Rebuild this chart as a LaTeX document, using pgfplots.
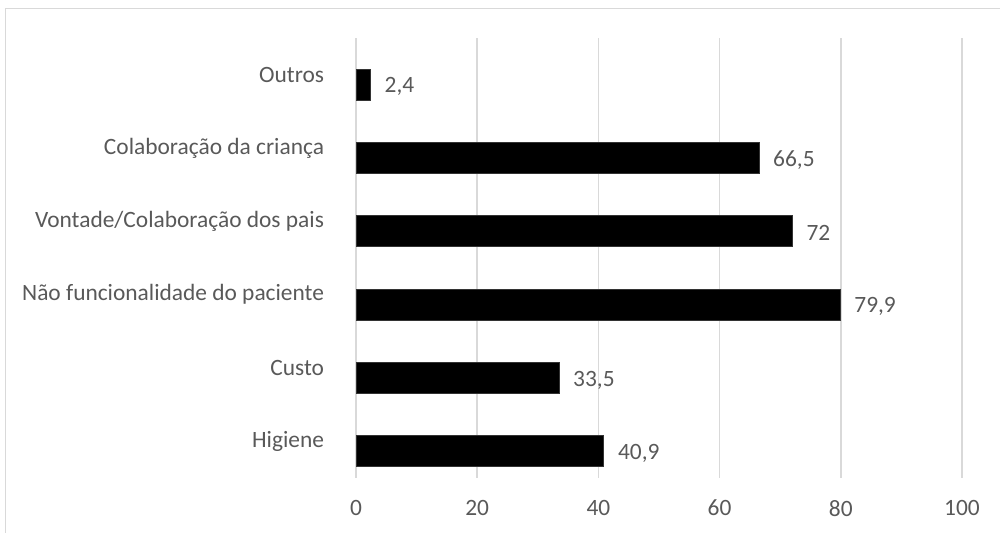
\documentclass[border=0pt]{standalone}
\usepackage{fontspec}
\setmainfont{Carlito}
\usepackage{pgfplots}
\pgfplotsset{compat=1.18}
\definecolor{txt}{HTML}{595959}
\definecolor{grd}{HTML}{D9D9D9}
\begin{document}
\fontsize{11.7pt}{14pt}\selectfont
\begin{tikzpicture}
\useasboundingbox (0,0) rectangle (500pt,266.5pt);
\draw[grd, line width=0.75pt] (2.75pt,-2pt) -- (2.75pt,262.25pt) -- (502pt,262.25pt);
\begin{axis}[
  at={(178pt,27.5pt)}, anchor=south west,
  scale only axis, width=303pt, height=220pt,
  xbar, bar width=15.5pt, bar shift=-5pt,
  xmin=0, xmax=100, xtick={0,20,...,100},
  ymin=-0.5, ymax=5.5, ytick={0,1,2,3,4,5},
  yticklabels={Higiene,Custo,Não funcionalidade do paciente,Vontade/Colaboração dos pais,Colaboração da criança,Outros},
  xmajorgrids, grid style={grd, line width=0.75pt},
  axis line style={draw=none}, tick style={draw=none},
  ticklabel style={text=txt, font=\fontsize{11.7pt}{14pt}\selectfont},
  /pgf/number format/assume math mode=true,
  y tick label style={xshift=-7.6pt},
  x tick label style={yshift=-7pt},
  nodes near coords,
  nodes near coords style={text=txt, anchor=west, xshift=3pt, yshift=-1pt, font=\fontsize{11.7pt}{14pt}\selectfont, /pgf/number format/use comma, /pgf/number format/assume math mode=true},
]
\addplot[fill=black, draw=black!80, line width=0.4pt] coordinates {
(40.9,0) (33.5,1) (79.9,2) (72,3) (66.5,4) (2.4,5)};
\end{axis}
\end{tikzpicture}
\end{document}
